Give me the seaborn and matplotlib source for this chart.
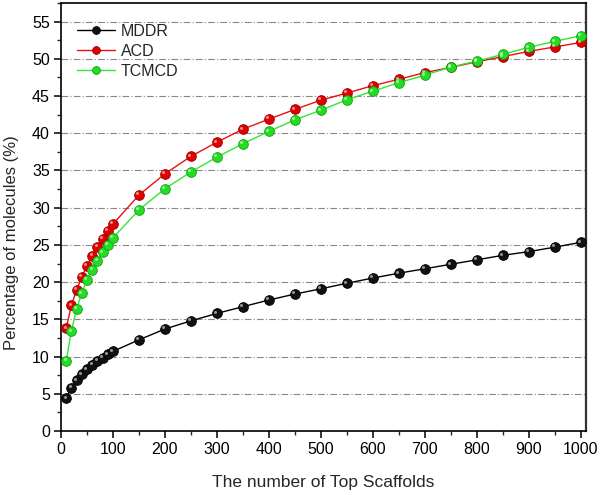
import matplotlib
matplotlib.use("Agg")
import matplotlib.pyplot as plt
import matplotlib.transforms as mtransforms
from matplotlib.ticker import MultipleLocator
import seaborn as sns
import pandas as pd

top_n = [10, 20, 30, 40, 50, 60, 70, 80, 90, 100, 150, 200, 250, 300, 350, 400,
         450, 500, 550, 600, 650, 700, 750, 800, 850, 900, 950, 1000]
mddr = [4.4, 5.8, 6.8, 7.6, 8.3, 8.9, 9.4, 9.85, 10.3, 10.7, 12.25, 13.7, 14.8, 15.8,
        16.7, 17.6, 18.4, 19.1, 19.85, 20.55, 21.2, 21.8, 22.4, 23.0, 23.6, 24.1, 24.7, 25.35]
acd = [13.8, 16.9, 18.95, 20.7, 22.2, 23.5, 24.7, 25.85, 26.9, 27.8, 31.7, 34.55, 36.9,
       38.8, 40.55, 41.9, 43.2, 44.45, 45.4, 46.4, 47.25, 48.15, 48.85, 49.6, 50.3,
       51.0, 51.6, 52.2]
tcmcd = [9.45, 13.4, 16.4, 18.5, 20.3, 21.65, 22.85, 24.0, 25.0, 25.95, 29.7, 32.55,
         34.8, 36.8, 38.6, 40.25, 41.8, 43.1, 44.5, 45.65, 46.8, 47.8, 48.9, 49.7,
         50.6, 51.55, 52.35, 53.1]
series_names = ["MDDR", "ACD", "TCMCD"]

df = pd.DataFrame({
    "x": top_n * 3,
    "y": mddr + acd + tcmcd,
    "db": [n for n in series_names for _ in top_n],
})

sns.set_theme(style="ticks")
plt.rcParams["font.family"] = ["Liberation Sans", "DejaVu Sans"]

fig = plt.figure(figsize=(6.0, 4.95), dpi=100)
ax = fig.add_axes([61 / 600, 1 - 431 / 495, (586 - 61) / 600, (431 - 3) / 495])

line_colors = {"MDDR": "#000000", "ACD": "#e81010", "TCMCD": "#33e633"}
face_colors = {"MDDR": "#111111", "ACD": "#e00000", "TCMCD": "#22dd22"}
edge_colors = {"MDDR": "#000000", "ACD": "#a00000", "TCMCD": "#10a010"}

for name in series_names:
    sub = df[df["db"] == name]
    sns.lineplot(data=sub, x="x", y="y", ax=ax, color=line_colors[name], lw=1.0,
                 marker="o", markersize=7.0, markerfacecolor=face_colors[name],
                 markeredgecolor=edge_colors[name], markeredgewidth=0.6,
                 label=name, zorder=3)
    hl = mtransforms.offset_copy(ax.transData, fig=fig, x=-1.2, y=1.2, units="points")
    ax.plot(sub["x"], sub["y"], ls="none", marker="o", markersize=2.2,
            markerfacecolor="white", markeredgewidth=0, alpha=0.55,
            transform=hl, zorder=4)

ax.set_xlim(0, 1010)
ax.set_ylim(0, 57.5)
ax.xaxis.set_major_locator(MultipleLocator(100))
ax.xaxis.set_minor_locator(MultipleLocator(50))
ax.yaxis.set_major_locator(MultipleLocator(5))
ax.yaxis.set_minor_locator(MultipleLocator(2.5))
ax.tick_params(which="major", direction="out", length=5, width=1.1, labelsize=11.5,
               colors="black", pad=3)
ax.tick_params(which="minor", direction="out", length=3, width=1.0)
ax.set_yticks(range(0, 56, 5))

for y in range(5, 56, 5):
    ax.axhline(y, color="#888888", lw=0.8, ls=(0, (6, 2, 1, 2)), zorder=1)

for s in ax.spines.values():
    s.set_visible(True)
    s.set_color("black")
    s.set_linewidth(1.2)
ax.spines["right"].set_color("#333333")
ax.spines["right"].set_linewidth(1.6)

ax.set_xlabel("The number of Top Scaffolds", fontsize=12.5, labelpad=13)
ax.set_ylabel("Percentage of molecules (%)", fontsize=12)
ax.yaxis.set_label_coords(-0.080, 0.44)

leg = ax.legend(loc="upper left", frameon=False, fontsize=11.5,
                bbox_to_anchor=(0.018, 0.966), handlelength=2.4, labelspacing=0.3,
                handletextpad=0.35, borderaxespad=0.0, markerscale=0.8)

fig.savefig("out.png", dpi=100)
